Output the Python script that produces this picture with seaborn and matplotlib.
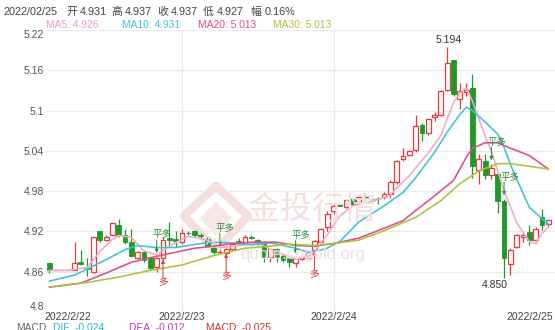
import matplotlib
matplotlib.use("Agg")
import matplotlib.pyplot as plt
import matplotlib.transforms as mtransforms
from matplotlib.patches import Rectangle, Polygon
import seaborn as sns
import pandas as pd
import numpy as np

# ---------------- data ----------------
opens = [4.873, 4.862, 4.862, 4.862, 4.863, 4.875, 4.866, 4.860, 4.920, 4.907,
         4.914, 4.929, 4.914, 4.904, 4.880, 4.889, 4.880, 4.867, 4.880, 4.910,
         4.909, 4.904, 4.918, 4.920, 4.914, 4.909, 4.896, 4.889, 4.888, 4.894,
         4.906, 4.902, 4.912, 4.907, 4.902, 4.882, 4.894, 4.884, 4.880, 4.873,
         4.879, 4.880, 4.893, 4.904, 4.926, 4.951, 4.961, 4.957, 4.968, 4.964,
         4.975, 4.968, 4.968, 4.971, 4.976, 4.993, 5.028, 5.034, 5.041, 5.079,
         5.067, 5.090, 5.094, 5.131, 5.175, 5.117, 5.128, 5.134, 5.011, 5.025,
         5.004, 5.005, 4.966, 4.872, 4.897, 4.912, 4.919, 4.907, 4.941, 4.931]
highs = [4.875, 4.862, 4.862, 4.862, 4.904, 4.893, 4.880, 4.912, 4.921, 4.914,
         4.933, 4.939, 4.924, 4.924, 4.891, 4.892, 4.882, 4.882, 4.912, 4.934,
         4.920, 4.923, 4.921, 4.922, 4.917, 4.911, 4.897, 4.892, 4.895, 4.903,
         4.910, 4.914, 4.915, 4.909, 4.904, 4.896, 4.896, 4.886, 4.881, 4.881,
         4.882, 4.890, 4.907, 4.925, 4.950, 4.962, 4.962, 4.968, 4.969, 4.973,
         4.976, 4.968, 4.972, 4.978, 4.997, 5.026, 5.045, 5.041, 5.094, 5.081,
         5.088, 5.098, 5.131, 5.194, 5.176, 5.141, 5.141, 5.154, 5.036, 5.035,
         5.020, 5.008, 4.968, 4.895, 4.916, 4.918, 4.929, 4.926, 4.954, 4.937]
lows = [4.858, 4.862, 4.862, 4.862, 4.862, 4.870, 4.853, 4.858, 4.905, 4.906,
        4.913, 4.912, 4.902, 4.882, 4.879, 4.875, 4.862, 4.860, 4.878, 4.899,
        4.897, 4.902, 4.915, 4.912, 4.910, 4.897, 4.887, 4.887, 4.887, 4.893,
        4.900, 4.901, 4.909, 4.900, 4.875, 4.875, 4.875, 4.875, 4.867, 4.867,
        4.877, 4.879, 4.891, 4.903, 4.920, 4.946, 4.958, 4.955, 4.960, 4.962,
        4.967, 4.968, 4.961, 4.969, 4.970, 4.991, 5.025, 5.032, 5.038, 5.055,
        5.064, 5.085, 5.092, 5.129, 5.122, 5.102, 5.122, 5.000, 4.990, 4.998,
        4.998, 4.947, 4.850, 4.855, 4.895, 4.905, 4.900, 4.903, 4.922, 4.927]
closes = [4.863, 4.862, 4.862, 4.862, 4.873, 4.871, 4.864, 4.912, 4.907, 4.912,
          4.932, 4.914, 4.904, 4.884, 4.889, 4.877, 4.865, 4.880, 4.907, 4.907,
          4.906, 4.917, 4.917, 4.914, 4.913, 4.899, 4.889, 4.890, 4.894, 4.902,
          4.904, 4.912, 4.910, 4.902, 4.882, 4.894, 4.882, 4.877, 4.875, 4.880,
          4.880, 4.889, 4.906, 4.924, 4.946, 4.958, 4.958, 4.967, 4.961, 4.972,
          4.968, 4.968, 4.968, 4.976, 4.993, 5.025, 5.032, 5.040, 5.077, 5.066,
          5.087, 5.094, 5.129, 5.171, 5.124, 5.129, 5.131, 5.018, 5.028, 5.004,
          5.015, 4.966, 4.880, 4.892, 4.914, 4.915, 4.907, 4.924, 4.929, 4.937]

ma5_idx = [0, 3, 6, 8, 10, 11, 13, 15, 17, 19, 22, 25, 27, 30, 33, 36, 39, 41, 42, 44,
           46, 48, 52, 54, 55, 57, 60, 62, 64, 65, 66, 67, 69, 70, 72, 74, 76, 77, 78, 79]
ma5_val = [4.862, 4.862, 4.866, 4.890, 4.908, 4.914, 4.911, 4.891, 4.885, 4.898,
           4.913, 4.907, 4.896, 4.899, 4.903, 4.889, 4.879, 4.883, 4.890, 4.915,
           4.943, 4.958, 4.967, 4.974, 4.985, 5.003, 5.037, 5.063, 5.112, 5.126,
           5.134, 5.114, 5.062, 5.039, 4.981, 4.933, 4.905, 4.902, 4.917, 4.926]
ma10_idx = [0, 4, 6, 9, 12, 14, 17, 20, 24, 27, 32, 35, 39, 41, 42, 44, 46, 49, 53,
            56, 58, 61, 63, 65, 66, 67, 69, 71, 72, 73, 74, 76, 78, 79]
ma10_val = [4.846, 4.855, 4.864, 4.878, 4.893, 4.899, 4.896, 4.896, 4.902, 4.904,
            4.900, 4.903, 4.895, 4.889, 4.890, 4.895, 4.905, 4.934, 4.958, 4.978,
            5.000, 5.038, 5.068, 5.094, 5.105, 5.100, 5.083, 5.065, 5.045, 5.020,
            4.998, 4.956, 4.939, 4.931]
ma20_idx = [0, 5, 9, 13, 16, 20, 23, 26, 29, 32, 36, 39, 42, 45, 49, 52, 56, 58, 61,
            64, 66, 67, 69, 71, 73, 76, 79]
ma20_val = [4.837, 4.843, 4.858, 4.874, 4.881, 4.889, 4.895, 4.898, 4.902, 4.904,
            4.904, 4.899, 4.898, 4.902, 4.910, 4.921, 4.936, 4.951, 4.973, 4.996,
            5.030, 5.044, 5.052, 5.052, 5.044, 5.033, 5.013]
ma30_idx = [0, 6, 11, 16, 21, 26, 31, 36, 38, 42, 45, 49, 53, 58, 62, 65, 68, 71, 73,
            76, 79]
ma30_val = [4.837, 4.844, 4.852, 4.862, 4.870, 4.884, 4.895, 4.899, 4.901, 4.899,
            4.902, 4.907, 4.921, 4.941, 4.966, 4.991, 5.010, 5.021, 5.021, 5.017,
            5.013]

ytick_vals = [4.8, 4.86, 4.92, 4.98, 5.04, 5.1, 5.16, 5.22]
ytick_labels = ["4.8", "4.86", "4.92", "4.98", "5.04", "5.1", "5.16", "5.22"]
date_idx = [3, 21, 45, 76]
date_labels = ["2022/2/22", "2022/2/23", "2022/2/24", "2022/2/25"]
grid_x_idx = [21, 45]
pingduo_idx = [17, 27, 39, 70, 72]
duo_idx = [18, 28, 42]
high_mark = (63, 5.194, "5.194")
low_mark = (72, 4.850, "4.850")

header_parts = ["2022/02/25", "开", "4.931", "高", "4.937", "收", "4.937",
                "低", "4.927", "幅", "0.16%"]
ma_legend = [("MA5: 4.926", "#f39ac0"), ("MA10: 4.931", "#3cc3d6"),
             ("MA20: 5.013", "#e34d83"), ("MA30: 5.013", "#a8c33a")]
macd_legend = [("MACD", "#666666"), ("DIF: -0.024", "#2bb3d8"),
               ("DEA: -0.012", "#c040c0"), ("MACD: -0.025", "#d03030")]

# ---------------- style ----------------
sns.set_theme(style="white")
plt.rcParams["font.family"] = ["Liberation Sans", "Noto Sans CJK SC", "DejaVu Sans"]
CJK = ["Noto Sans CJK SC", "DejaVu Sans"]

W, H = 555, 330
fig = plt.figure(figsize=(W / 100, H / 100), dpi=100)
ax_left, ax_right, ax_top, ax_bot = 46, 555, 30, 312
ax = fig.add_axes([ax_left / W, 1 - ax_bot / H, (ax_right - ax_left) / W, (ax_bot - ax_top) / H])

step = 6.316
x0 = 49.3
pxv = (ax_bot - ax_top) / (5.22 - 4.8)
ax.set_xlim((ax_left - x0) / step, (ax_right - x0) / step)
ax.set_ylim(4.8, 5.22)
for s in ax.spines.values():
    s.set_visible(False)

UP = "#e8383d"
DOWN = "#1f9a2a"
GRID = "#e9e9e9"

for v in ytick_vals:
    ax.axhline(v, color=GRID, lw=0.8, zorder=0)
for gx in grid_x_idx:
    ax.axvline(gx, color=GRID, lw=0.8, zorder=0)

ax.set_yticks(ytick_vals)
ax.set_yticklabels(ytick_labels)
ax.tick_params(axis="y", length=0, pad=1.5, labelsize=7.5, labelcolor="#555555")
ax.set_xticks([])
lbls = ax.get_yticklabels()
lbls[0].set_va("bottom")
lbls[-1].set_va("top")


def px2data(px, py):
    return (px - x0) / step, 4.8 + (ax_bot - py) / pxv


# ---------------- watermark ----------------
wm = "#f4dede"
ax.add_patch(Polygon([px2data(184, 216), px2data(216, 186), px2data(248, 216),
                      px2data(216, 250)], closed=True, facecolor="none",
                     edgecolor=wm, lw=6, joinstyle="round", zorder=0.5))
ax.add_patch(Polygon([px2data(200, 218), px2data(216, 202), px2data(232, 218),
                      px2data(216, 236)], closed=True, facecolor="#f6e6e6",
                     edgecolor="none", zorder=0.5))
fig.text(214 / W, 1 - 242 / H, "Au", color="#f0d2d2", fontsize=9, ha="center", va="center")
fig.text(312 / W, 1 - 210 / H, "金投行情", family=CJK, color="#f4dfdf", fontsize=23,
         ha="center", va="center")
fig.text(303 / W, 1 - 254 / H, "quote.cngold.org", color="#efe1e1", fontsize=12,
         ha="center", va="center")

# ---------------- MA lines (seaborn) ----------------
frames = []
for name, ix, vals in [("MA5", ma5_idx, ma5_val), ("MA10", ma10_idx, ma10_val),
                       ("MA20", ma20_idx, ma20_val), ("MA30", ma30_idx, ma30_val)]:
    frames.append(pd.DataFrame({"idx": ix, "val": vals, "name": name}))
ma_df = pd.concat(frames, ignore_index=True)
palette = {"MA5": "#f5a8c6", "MA10": "#3cc3d6", "MA20": "#e34d83", "MA30": "#a8c33a"}
sns.lineplot(data=ma_df, x="idx", y="val", hue="name", palette=palette, ax=ax,
             legend=False, linewidth=1.15, sort=False, estimator=None, zorder=4)
ax.set_xlabel("")
ax.set_ylabel("")

# ---------------- candles ----------------
bw = 0.76
for i, (o, h, l, c) in enumerate(zip(opens, highs, lows, closes)):
    if c > o:
        ax.vlines(i, c, h, color=UP, lw=0.9, zorder=3, clip_on=False)
        ax.vlines(i, l, o, color=UP, lw=0.9, zorder=3, clip_on=False)
        ax.add_patch(Rectangle((i - bw / 2, o), bw, c - o, facecolor="white",
                               edgecolor=UP, lw=0.9, zorder=3, clip_on=False))
    elif c < o:
        ax.vlines(i, l, h, color=DOWN, lw=0.9, zorder=3, clip_on=False)
        ax.add_patch(Rectangle((i - bw / 2, c), bw, o - c, facecolor=DOWN,
                               edgecolor=DOWN, lw=0.6, zorder=3, clip_on=False))
    else:
        col = "#9a9a9a" if h == l else DOWN
        ax.vlines(i, l, h, color=col, lw=0.9, zorder=3)
        ax.hlines(c, i - bw / 2, i + bw / 2, color=col, lw=1.0, zorder=3)

# ---------------- annotations ----------------
PD_COL = "#2e8b3a"
DUO_COL = "#e03535"
pt = 72 / 100.0  # points per pixel
for i in pingduo_idx:
    top = highs[i]
    tr = mtransforms.offset_copy(ax.transData, fig=fig, x=0, y=4 * pt, units="points")
    ax.annotate("", xy=(i, top), xycoords=tr, xytext=(0, 13 * pt), textcoords="offset points",
                arrowprops=dict(arrowstyle="-|>", color=PD_COL, lw=0.7, mutation_scale=5,
                                shrinkA=0, shrinkB=0), zorder=6)
    ax.annotate("平多", xy=(i, top), xycoords=tr, xytext=(-4 * pt, 18 * pt),
                textcoords="offset points", ha="left", va="center", color=PD_COL,
                fontsize=6.8, family=CJK, zorder=6)
for i in duo_idx:
    bot = lows[i]
    ax.annotate("", xy=(i, bot), xytext=(0, -18 * pt), textcoords="offset points",
                arrowprops=dict(arrowstyle="-|>", color=DUO_COL, lw=0.7, mutation_scale=5,
                                shrinkA=0, shrinkB=0), zorder=6)
    ax.annotate("多", xy=(i, bot), xytext=(0, -23 * pt), textcoords="offset points",
                ha="center", va="center", color=DUO_COL, fontsize=7, family=CJK, zorder=6)

hi_i, hi_v, hi_t = high_mark
ax.annotate(hi_t, xy=(hi_i, hi_v), xytext=(1 * pt, 7 * pt), textcoords="offset points",
            ha="center", va="center", fontsize=7.5, color="#333333", zorder=6)
lo_i, lo_v, lo_t = low_mark
ax.annotate(lo_t, xy=(lo_i, lo_v), xytext=(-9.5 * pt, -7 * pt), textcoords="offset points",
            ha="center", va="center", fontsize=7.5, color="#333333", zorder=6)

# ---------------- date labels ----------------
btr = mtransforms.blended_transform_factory(ax.transData, fig.transFigure)
for di, dl in zip(date_idx, date_labels):
    ax.text(di, 1 - 316.5 / H, dl, transform=btr, ha="center", va="center",
            fontsize=7.5, color="#444444", clip_on=False)

# ---------------- header texts ----------------
for t, x in zip(header_parts, [3, 66, 80, 111, 125, 157, 171, 203, 217, 250, 265]):
    fig.text(x / W, 1 - 12 / H, t, fontsize=7.8, color="#444444", ha="left", va="center",
             family=["Liberation Sans", "Noto Sans CJK SC"])
for (t, col), x in zip(ma_legend, [46, 122, 198, 273]):
    fig.text(x / W, 1 - 25 / H, t, fontsize=7.4, color=col, ha="left", va="center")
for (t, col), x in zip(macd_legend, [16, 53, 129, 206]):
    fig.text(x / W, 1 - 323 / H, t, fontsize=7.4, color=col, ha="left", va="top")

fig.savefig("out.png", dpi=100)
